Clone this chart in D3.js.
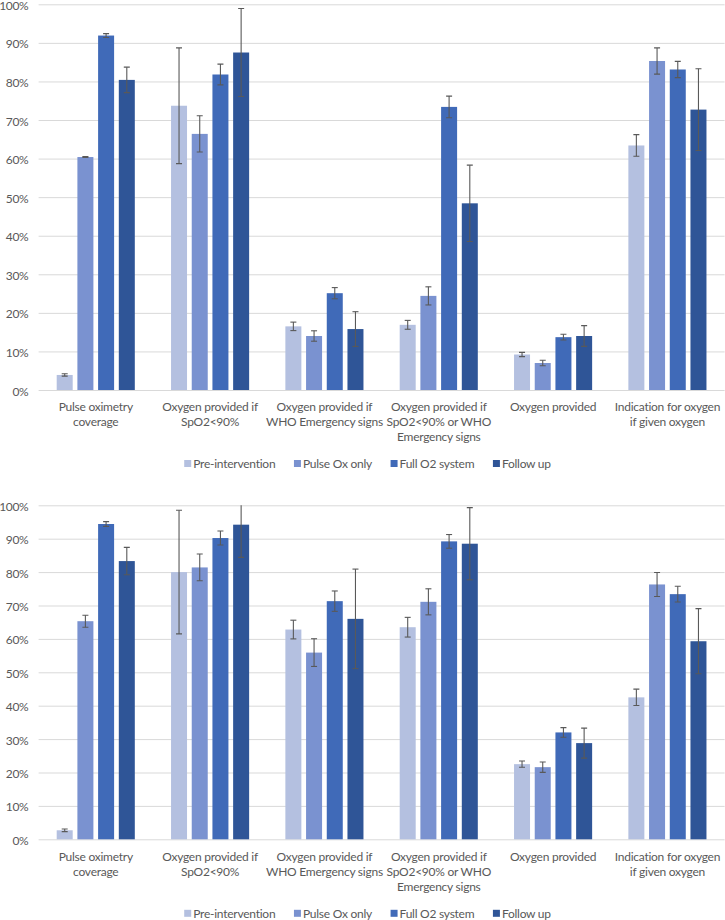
<!DOCTYPE html>
<html><head><meta charset="utf-8">
<script src="https://cdn.jsdelivr.net/npm/d3@7"></script>
<style>body{margin:0;background:#fff}svg{display:block}text{font-family:Lato,"Open Sans",sans-serif;fill:#595959;letter-spacing:-0.25px}</style>
</head><body>
<svg id="c" width="725" height="920"></svg>
<script>
const categories = [
  ["Pulse oximetry", "coverage"],
  ["Oxygen provided if", "SpO2<90%"],
  ["Oxygen provided if", "WHO Emergency signs"],
  ["Oxygen provided if", "SpO2<90% or WHO", "Emergency signs"],
  ["Oxygen provided"],
  ["Indication for oxygen", "if given oxygen"]
];
const seriesNames = ["Pre-intervention", "Pulse Ox only", "Full O2 system", "Follow up"];
const seriesColors = ["#b4c0e0", "#7a92d0", "#406ab8", "#2f5597"];
const yTicks = [0, 10, 20, 30, 40, 50, 60, 70, 80, 90, 100];

// Top chart values (%) and error half-widths
const topPre      = [3.9, 73.7, 16.5, 16.9, 9.2, 63.4];
const topPulseOx  = [60.4, 66.4, 14.0, 24.4, 7.0, 85.3];
const topFull     = [91.9, 81.8, 25.1, 73.4, 13.7, 83.1];
const topFollow   = [80.4, 87.5, 15.8, 48.4, 14.0, 72.7];
const topPreErr      = [0.3, 15.0, 1.1, 1.15, 0.55, 2.8];
const topPulseOxErr  = [0.1, 4.7, 1.35, 2.35, 0.7, 3.4];
const topFullErr     = [0.5, 2.7, 1.45, 2.8, 0.75, 2.1];
const topFollowErr   = [3.3, 11.4, 4.5, 9.9, 2.7, 10.6];

// Bottom chart values (%) and error half-widths
const botPre      = [2.7, 80.0, 62.8, 63.5, 22.5, 42.5];
const botPulseOx  = [65.3, 81.4, 55.9, 71.1, 21.6, 76.3];
const botFull     = [94.4, 90.2, 71.3, 89.2, 32.0, 73.4];
const botFollow   = [83.3, 94.2, 66.0, 88.5, 28.8, 59.3];
const botPreErr      = [0.4, 18.5, 2.8, 2.95, 0.95, 2.45];
const botPulseOxErr  = [1.8, 4.0, 4.15, 3.9, 1.55, 3.6];
const botFullErr     = [0.7, 2.1, 3.05, 2.05, 1.45, 2.35];
const botFollowErr   = [4.1, 9.8, 14.9, 10.8, 4.5, 9.75];

const svg = d3.select("#c");
const x0 = 38.6, x1 = 724.6;

function drawChart(id, vals, errs, yTop, yBot, labelY, legendY) {
  const g = svg.append("g");
  const x = d3.scaleBand().domain(d3.range(categories.length)).range([x0, x1]).padding(0);
  const xs = d3.scaleBand().domain(d3.range(seriesNames.length))
    .range([18.1, 96.2]).paddingInner(0.227).paddingOuter(0);
  const y = d3.scaleLinear().domain([0, 100]).range([yBot, yTop]);

  g.append("clipPath").attr("id", "clip" + id).append("rect")
    .attr("x", x0).attr("y", yTop).attr("width", x1 - x0).attr("height", yBot - yTop);

  const yAxis = d3.axisLeft(y).tickValues(yTicks).tickFormat(d => d + "%").tickSize(-(x1 - x0));
  const ag = g.append("g").attr("transform", `translate(${x0},0)`).call(yAxis);
  ag.select(".domain").remove();
  ag.selectAll(".tick line").attr("stroke", "#d9d9d9").attr("stroke-width", 1);
  ag.selectAll(".tick text").attr("font-size", 12).attr("fill", "#595959").attr("x", -10.3).attr("y", 1.2)
    .style("font-family", "Lato, 'Open Sans', sans-serif").style("letter-spacing", "-0.35px");

  seriesNames.forEach((s, si) => {
    g.append("g").selectAll("rect").data(vals[si]).join("rect")
      .attr("x", (d, i) => x(i) + xs(si))
      .attr("width", xs.bandwidth())
      .attr("y", d => y(d))
      .attr("height", d => y(0) - y(d))
      .attr("fill", seriesColors[si]);
  });
  const eg = g.append("g").attr("clip-path", `url(#clip${id})`).attr("stroke", "#595959").attr("stroke-width", 1.1);
  seriesNames.forEach((s, si) => {
    vals[si].forEach((v, i) => {
      const cx = x(i) + xs(si) + xs.bandwidth() / 2;
      const hi = y(v + errs[si][i]), lo = y(v - errs[si][i]);
      eg.append("line").attr("x1", cx).attr("x2", cx).attr("y1", hi).attr("y2", lo);
      eg.append("line").attr("x1", cx - 3).attr("x2", cx + 3).attr("y1", hi).attr("y2", hi);
      eg.append("line").attr("x1", cx - 3).attr("x2", cx + 3).attr("y1", lo).attr("y2", lo);
    });
  });
  categories.forEach((lines, i) => {
    const t = g.append("text").attr("text-anchor", "middle").attr("font-size", 12);
    lines.forEach((ln, li) => {
      t.append("tspan").attr("x", x(i) + x.bandwidth() / 2).attr("y", labelY + li * 15)
        .attr("dominant-baseline", "central").text(ln);
    });
  });
  const lg = g.append("g");
  let cur = 0;
  seriesNames.forEach((s, si) => {
    const it = lg.append("g");
    it.append("rect").attr("x", 0).attr("y", -3.5).attr("width", 7).attr("height", 7).attr("fill", seriesColors[si]);
    const tx = it.append("text").attr("x", 9).attr("y", 0).attr("dominant-baseline", "central").attr("font-size", 12).text(s);
    const w = 9 + tx.node().getComputedTextLength();
    it.attr("transform", `translate(${cur},${legendY})`);
    cur += w + 18.6;
  });
  const total = cur - 18.6;
  lg.attr("transform", `translate(${367.5 - total / 2},0)`);
}

drawChart("t", [topPre, topPulseOx, topFull, topFollow], [topPreErr, topPulseOxErr, topFullErr, topFollowErr], 4.3, 390, 406.7, 463.5);
drawChart("b", [botPre, botPulseOx, botFull, botFollow], [botPreErr, botPulseOxErr, botFullErr, botFollowErr], 505.3, 839.3, 856.7, 913.3);
</script>
</body></html>
